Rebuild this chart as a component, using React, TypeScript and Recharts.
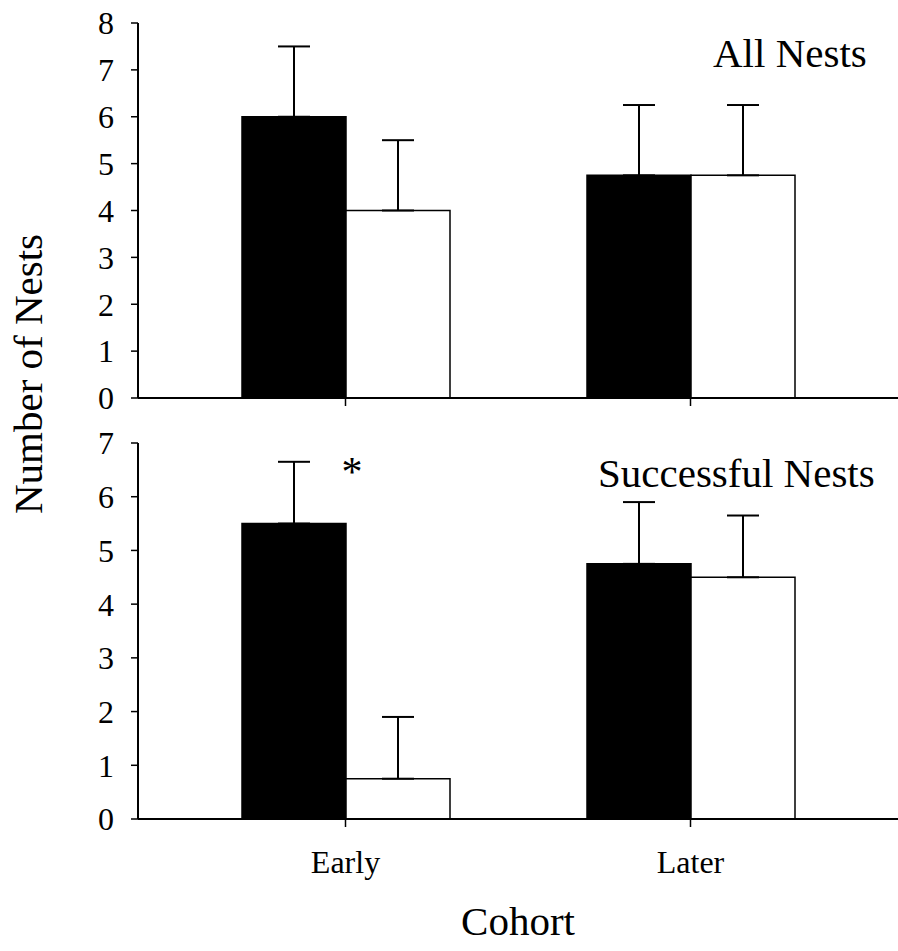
import React from "react";
import { BarChart, Bar, XAxis, YAxis, ErrorBar } from "recharts";

// cohorts on the x axis
const cohorts = ["Early", "Later"];

// top panel: all nests
const allBlack = [6, 4.75];
const allWhite = [4, 4.75];
const allBlackErr = [1.5, 1.5];
const allWhiteErr = [1.5, 1.5];

// bottom panel: successful nests
const succBlack = [5.5, 4.75];
const succWhite = [0.75, 4.5];
const succBlackErr = [1.15, 1.15];
const succWhiteErr = [1.15, 1.15];

const topTicks = [0, 1, 2, 3, 4, 5, 6, 7, 8];
const bottomTicks = [0, 1, 2, 3, 4, 5, 6, 7];

const FONT = "Liberation Serif, Times New Roman, serif";

const build = (black: number[], white: number[], bErr: number[], wErr: number[]) =>
  cohorts.map((c, i) => ({
    cohort: c,
    black: black[i],
    white: white[i],
    blackErr: [0, bErr[i]],
    whiteErr: [0, wErr[i]],
  }));

const allData = build(allBlack, allWhite, allBlackErr, allWhiteErr);
const succData = build(succBlack, succWhite, succBlackErr, succWhiteErr);

function Panel({ data, ticks, max, height, xAxisHeight, showLabels }: any) {
  return (
    <BarChart
      width={898}
      height={height}
      data={data}
      margin={{ top: 23, right: 0, left: 0, bottom: 0 }}
      barCategoryGap="20%"
      barGap={0}
      style={{ fontFamily: FONT }}
    >
      <XAxis
        dataKey="cohort"
        height={xAxisHeight}
        padding={{ left: 35, right: 35 }}
        axisLine={{ stroke: "#000", strokeWidth: 2 }}
        tickLine={{ stroke: "#000", strokeWidth: 1.5 }}
        tickSize={8}
        tickMargin={23}
        tickFormatter={(v: string) => (showLabels ? v : "")}
        tick={{ fill: "#000", fontSize: 32, style: { fontFamily: FONT } }}
      />
      <YAxis
        width={138}
        domain={[0, max]}
        ticks={ticks}
        interval={0}
        allowDataOverflow
        axisLine={{ stroke: "#000", strokeWidth: 2 }}
        tickLine={{ stroke: "#000", strokeWidth: 1.5 }}
        tickSize={7}
        tickMargin={17}
        tick={{ fill: "#000", fontSize: 32, style: { fontFamily: FONT } }}
      />
      <Bar dataKey="black" fill="#000" stroke="#000" strokeWidth={1.5} isAnimationActive={false}>
        <ErrorBar dataKey="blackErr" direction="y" width={16} stroke="#000" strokeWidth={2} />
      </Bar>
      <Bar dataKey="white" fill="#fff" stroke="#000" strokeWidth={1.5} isAnimationActive={false}>
        <ErrorBar dataKey="whiteErr" direction="y" width={16} stroke="#000" strokeWidth={2} />
      </Bar>
    </BarChart>
  );
}

export default function App() {
  return (
    <div
      style={{
        position: "absolute",
        left: 0,
        top: 0,
        width: 898,
        height: 951,
        background: "#fff",
        fontFamily: FONT,
      }}
    >
      <div style={{ position: "absolute", left: 0, top: 0 }}>
        <Panel data={allData} ticks={topTicks} max={8} height={430} xAxisHeight={32} showLabels={false} />
      </div>
      <div style={{ position: "absolute", left: 0, top: 420 }}>
        <Panel data={succData} ticks={bottomTicks} max={7} height={531} xAxisHeight={132} showLabels />
      </div>
      {/* panel titles and axis titles */}
      <svg
        width={898}
        height={951}
        style={{ position: "absolute", left: 0, top: 0, pointerEvents: "none", fontFamily: FONT }}
        fill="#000"
      >
        <text x={713} y={67} fontSize={41}>All Nests</text>
        <text x={598} y={487} fontSize={41}>Successful Nests</text>
        <text x={352} y={486} fontSize={42} textAnchor="middle">*</text>
        <text x={518} y={935} fontSize={41} textAnchor="middle">Cohort</text>
        <text x={42} y={374} fontSize={41} textAnchor="middle" transform="rotate(-90, 42, 374)">
          Number of Nests
        </text>
      </svg>
    </div>
  );
}
